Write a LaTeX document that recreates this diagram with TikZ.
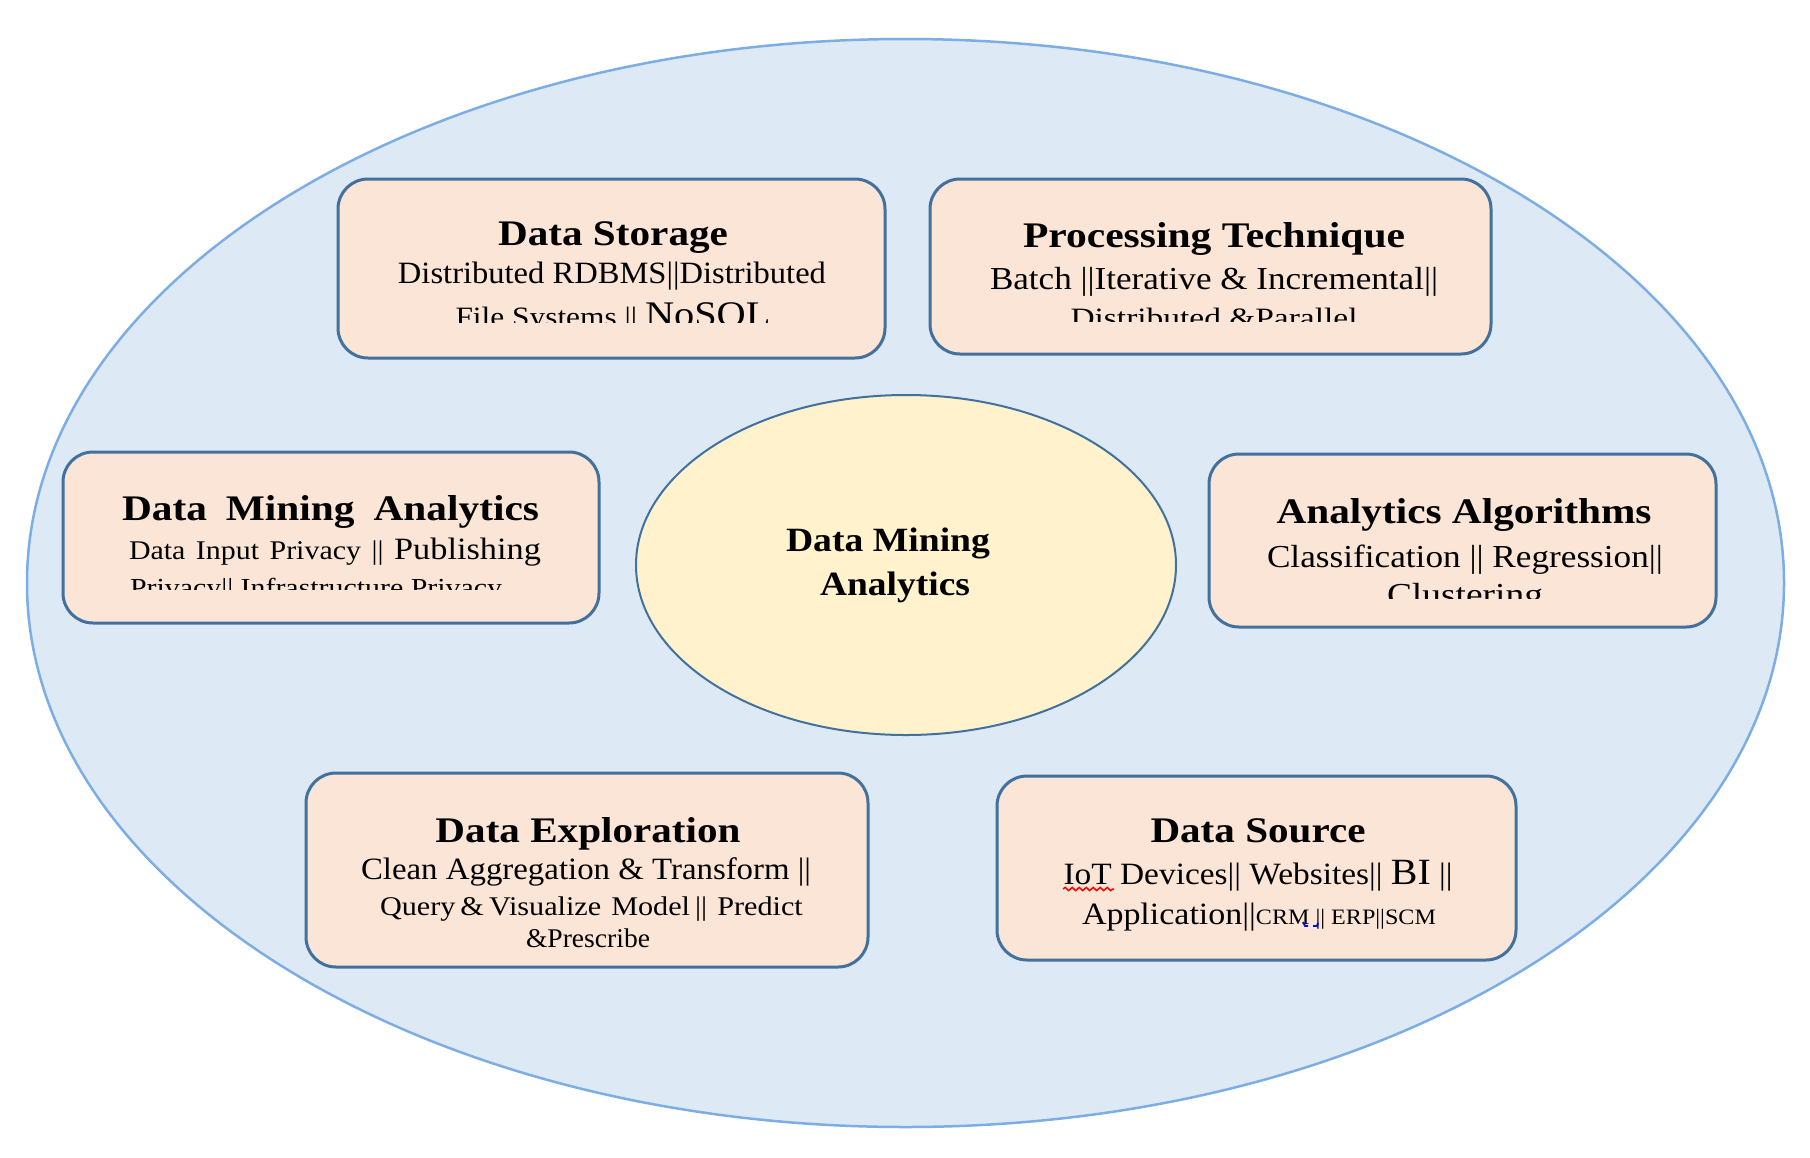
\documentclass[tikz,border=0pt]{standalone}
\usepackage{fontspec}
\setmainfont{Liberation Serif}
\usepackage{graphicx}
\usetikzlibrary{decorations.pathmorphing,shapes.geometric}
\definecolor{outerfill}{HTML}{DEE9F6}
\definecolor{outerline}{HTML}{7DAEE3}
\definecolor{boxfill}{HTML}{FBE5D6}
\definecolor{boxline}{HTML}{41719C}
\definecolor{corefill}{HTML}{FFF2CC}
\newcommand{\fitline}[3]{\resizebox{#1pt}{\height}{\fontsize{#2pt}{#2pt}\selectfont #3}}
\newcommand{\fsz}[1]{\fontsize{#1pt}{#1pt}\selectfont}
\begin{document}
\begin{tikzpicture}[x=1pt,y=-1pt,
  outerell/.style={ellipse, draw=outerline, fill=outerfill, line width=2.5pt, inner sep=0pt},
  coreell/.style={ellipse, draw=boxline, fill=corefill, line width=2pt, inner sep=0pt},
  infobox/.style={rectangle, rounded corners=30pt, draw=boxline, fill=boxfill, line width=3pt, inner sep=0pt},
  txt/.style={anchor=base, inner sep=0pt, outer sep=0pt},
  txtw/.style={anchor=base west, inner sep=0pt, outer sep=0pt}]
\useasboundingbox (0,0) rectangle (1810,1157);
\fill[white] (0,0) rectangle (1810,1157);
\node[outerell, minimum width=1757pt, minimum height=1088pt] (outer) at (905.5,583) {};
\node[coreell, minimum width=540pt, minimum height=340pt] (core) at (906,565) {};
\node[infobox, minimum width=547pt, minimum height=179pt] (ds) at (611.5,268.5) {};
\node[infobox, minimum width=561pt, minimum height=175pt] (pt) at (1210.5,266.5) {};
\node[infobox, minimum width=536pt, minimum height=171pt] (dma) at (331,537.5) {};
\node[infobox, minimum width=507pt, minimum height=173pt] (aa) at (1462.5,540.5) {};
\node[infobox, minimum width=562pt, minimum height=194pt] (de) at (587,870) {};
\node[infobox, minimum width=519pt, minimum height=184pt] (dsrc) at (1256.5,868) {};
% center
\node[txt] (coreA) at (888,551) {\fitline{204}{34}{\bfseries Data Mining}};
\node[txt] (coreB) at (895,595) {\fitline{150}{34}{\bfseries Analytics}};
% Data Storage
\node[txt] (dsT) at (613,245) {\fitline{230}{36}{\bfseries Data Storage}};
\node[txt] (dsA) at (612,283) {\fitline{428}{31}{Distributed RDBMS||Distributed}};
\begin{scope}
\clip (338,179) rectangle (885,322);
\node[txt] (dsB) at (613,326) {\fitline{315}{28}{File Systems || {\fsz{36}NoSQL}}};
\end{scope}
% Processing Technique
\node[txt] (ptT) at (1214,247) {\fitline{382}{36}{\bfseries Processing Technique}};
\node[txt] (ptA) at (1214,289) {\fitline{448}{32}{Batch ||Iterative \& Incremental||}};
\begin{scope}
\clip (930,179) rectangle (1491,321);
\node[txt] (ptB) at (1214,327) {\fitline{287}{28}{Distributed \&Parallel}};
\end{scope}
% Data Mining Analytics box
\node[txtw] (dmaT) at (122,520) {\resizebox{417pt}{\height}{\makebox[363pt][s]{\fsz{36}\bfseries Data Mining Analytics}}};
\node[txtw] (dmaA) at (129,559) {\resizebox{412pt}{\height}{\makebox[372pt][s]{\fsz{27}Data Input Privacy || {\fsz{31}Publishing}}}};
\begin{scope}
\clip (63,452) rectangle (599,589);
\node[txtw] (dmaB) at (130,596) {\fitline{372}{26}{Privacy|| Infrastructure Privacy}};
\end{scope}
% Analytics Algorithms
\node[txt] (aaT) at (1464,523) {\fitline{375}{36}{\bfseries Analytics Algorithms}};
\node[txt] (aaA) at (1465,567) {\fitline{396}{32}{Classification || Regression||}};
\begin{scope}
\clip (1209,454) rectangle (1716,598);
\node[txt] (aaB) at (1465,605) {\fitline{156}{32}{Clustering}};
\end{scope}
% Data Exploration
\node[txt] (deT) at (588,842) {\fitline{305}{36}{\bfseries Data Exploration}};
\node[txt] (deA) at (586,879) {\fitline{450}{31}{Clean Aggregation \& Transform ||}};
\node[txt] (deB) at (588,915) {\resizebox{416pt}{\height}{\makebox[372pt][s]{\fsz{27}Query \& Visualize\ \ Model ||\ \ Predict}}};
\node[txt] (deC) at (588,947) {\fitline{124}{27}{\&Prescribe}};
% Data Source
\node[txt] (srcT) at (1258,842) {\fitline{215}{36}{\bfseries Data Source}};
\node[txt] (srcA) at (1258,884) {\fitline{389}{31}{IoT Devices|| Websites|| {\fsz{37}BI} ||}};
\node[txt] (srcB) at (1259,924) {\fitline{354}{31}{Application||{\fsz{22}CRM || ERP||SCM}}};
\draw[red, line width=1.5pt, decorate, decoration={snake, segment length=7pt, amplitude=1.6pt}] (1063,889) -- (1114,889);
\draw[blue, line width=1.8pt] (1303,922) -- (1305,926) -- (1308,926);
\draw[blue, line width=1.8pt] (1313,926) -- (1317,926) -- (1318,923);
\end{tikzpicture}
\end{document}
